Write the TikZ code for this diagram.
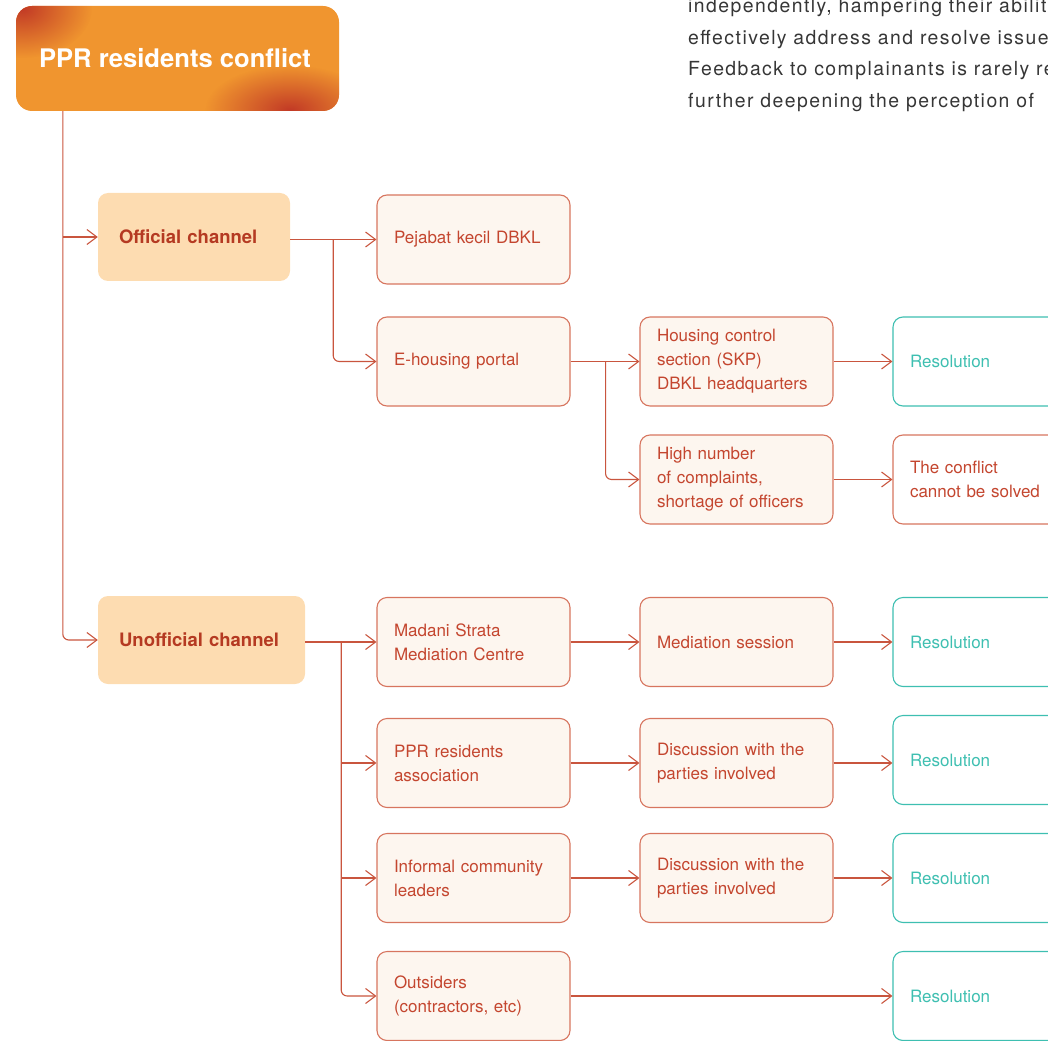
\documentclass[tikz,border=0pt]{standalone}
\usepackage{fontspec}
\setmainfont{TeX Gyre Heros}
\usetikzlibrary{arrows.meta,fadings}
\definecolor{linered}{HTML}{C9553E}
\definecolor{boxline}{HTML}{D7755F}
\definecolor{boxtext}{HTML}{C4462F}
\definecolor{boxfill}{HTML}{FDF6EF}
\definecolor{chanfill}{HTML}{FDDCB1}
\definecolor{chantext}{HTML}{B53A22}
\definecolor{teal}{HTML}{3EBFB1}
\definecolor{titleorange}{HTML}{F0952F}
\definecolor{titlered}{HTML}{C23A26}
\definecolor{paratext}{HTML}{363636}
\tikzfading[name=blob, inner color=transparent!0, outer color=transparent!100]

\begin{document}
\begin{tikzpicture}[x=1pt,y=-1pt,
  arr/.style={draw=linered, line width=1.1pt, -{Straight Barb[length=10pt,width=15pt]}},
  stepbox/.style={draw=boxline, line width=1.1pt, fill=boxfill, rounded corners=10pt,
    minimum width=193pt, minimum height=89pt, text width=159pt, inner xsep=17pt,
    align=left, text=boxtext, font=\fontsize{17}{24}\selectfont},
  endbox/.style={stepbox, fill=white, draw=teal, text=teal},
  chanbox/.style={fill=chanfill, rounded corners=10pt, minimum height=88pt,
    inner xsep=21pt, align=left, text=chantext, font=\fontsize{18.5}{22}\bfseries},
  para/.style={anchor=base west, inner sep=0pt, text=paratext,
    font=\fontsize{19.4}{32}\selectfont\addfontfeature{LetterSpace=7.5}}]
\useasboundingbox (0,0) rectangle (1048,1040);
\clip (0,0) rectangle (1048,1040);

% text of the page above
\node[para] (para1) at (688,13) {independently, hampering their ability to};
\node[para] (para2) at (688,45) {effectively address and resolve issues.};
\node[para] (para3) at (688,76) {Feedback to complainants is rarely received,};
\node[para] (para4) at (688,108) {further deepening the perception of};

% title
\fill[titleorange, rounded corners=16pt] (16,6) rectangle (339,111);
\begin{scope}
\clip[rounded corners=16pt] (16,6) rectangle (339,111);
\fill[titlered, path fading=blob] (22,8) ellipse[x radius=70pt, y radius=50pt];
\fill[titlered, path fading=blob] (290,110) ellipse[x radius=85pt, y radius=45pt];
\end{scope}
\node[minimum width=323pt, minimum height=105pt, text=white,
  font=\fontsize{25.6}{30}\bfseries] (title) at (175,58.5) {PPR residents conflict};

% channels
\node[chanbox, minimum width=192pt, text width=150pt] (off) at (194,237) {Official channel};
\node[chanbox, minimum width=207pt, text width=165pt] (unoff) at (201.5,640) {Unofficial channel};

% official route
\node[stepbox] (pej) at (473.5,239.5) {Pejabat kecil DBKL};
\node[stepbox] (eh) at (473.5,361.5) {E-housing portal};
\node[stepbox] (hc) at (736.5,361.5) {Housing control\\section (SKP)\\DBKL headquarters};
\node[stepbox] (hn) at (736.5,479.5) {High number\\of complaints,\\shortage of officers};
\node[endbox] (res1) at (989.5,361.5) {Resolution};
\node[stepbox, fill=white] (ncs) at (989.5,479.5) {The conflict\\cannot be solved};

% unofficial route
\node[stepbox] (msm) at (473.5,642) {Madani Strata\\Mediation Centre};
\node[stepbox] (ms) at (736.5,642) {Mediation session};
\node[endbox] (res2) at (989.5,642) {Resolution};
\node[stepbox] (pra) at (473.5,763) {PPR residents\\association};
\node[stepbox] (dis1) at (736.5,763) {Discussion with the\\parties involved};
\node[endbox] (res3) at (989.5,760) {Resolution};
\node[stepbox] (icl) at (473.5,878) {Informal community\\leaders};
\node[stepbox] (dis2) at (736.5,878) {Discussion with the\\parties involved};
\node[endbox] (res4) at (989.5,878) {Resolution};
\node[stepbox] (outs) at (473.5,996) {Outsiders\\(contractors, etc)};
\node[endbox] (res5) at (989.5,996) {Resolution};

% connectors
\coordinate (trunk) at ([xshift=49.5pt]title.south west);
\coordinate (split) at ([xshift=36pt]unoff.east |- msm.west);
\draw[arr] (trunk |- off.west) -- (off.west);
\draw[arr, rounded corners=6pt] (trunk) |- (unoff.west);
\draw[arr] (off.east |- pej.west) -- (pej.west);
\draw[arr, rounded corners=6pt] ([xshift=43pt]off.east |- pej.west) |- (eh.west);
\draw[arr] (eh.east) -- (hc.west);
\draw[arr, rounded corners=6pt] ([xshift=35pt]eh.east) |- (hn.west);
\draw[arr] (hc.east) -- (res1.west);
\draw[arr] (hn.east) -- (ncs.west);
\draw[arr] (unoff.east |- msm.west) -- (msm.west);
\draw[arr, rounded corners=6pt] (split) |- (outs.west);
\draw[arr] (split |- pra.west) -- (pra.west);
\draw[arr] (split |- icl.west) -- (icl.west);
\draw[arr] (msm.east) -- (ms.west);
\draw[arr] (ms.east) -- (res2.west);
\draw[arr] (pra.east) -- (dis1.west);
\draw[arr] (dis1.east) -- (dis1.east -| res3.west);
\draw[arr] (icl.east) -- (dis2.west);
\draw[arr] (dis2.east) -- (res4.west);
\draw[arr] (outs.east) -- (res5.west);
\end{tikzpicture}
\end{document}
